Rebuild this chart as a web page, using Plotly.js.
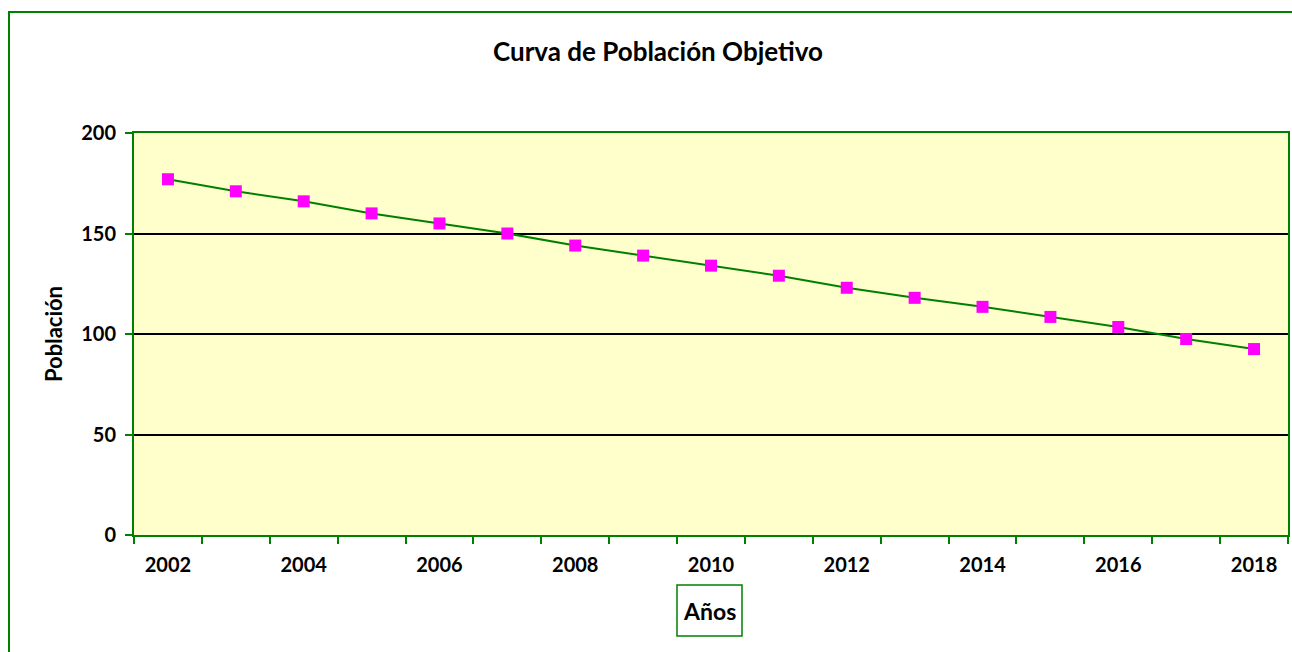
<!DOCTYPE html>
<html>
<head>
<meta charset="utf-8">
<script src="https://cdn.plot.ly/plotly-3.0.1.min.js"></script>
<style>html,body{margin:0;padding:0;background:#fff;}#chart{width:1292px;height:652px;}</style>
</head>
<body>
<div id="chart"></div>
<script>
const years = [2002,2003,2004,2005,2006,2007,2008,2009,2010,2011,2012,2013,2014,2015,2016,2017,2018];
const poblacion = [177,171,166,160,155,150,144,139,134,129,123,118,113.5,108.5,103.5,97.5,92.5];
const titleText = 'Curva de Población Objetivo';
const xTitle = 'Años';
const yTitle = 'Población';

const GREEN = '#008000';
const FONT = 'Lato, "Open Sans", sans-serif';

const trace = {
  x: years, y: poblacion, type: 'scatter', mode: 'lines+markers',
  line: {color: GREEN, width: 2},
  marker: {symbol: 'square', size: 12, color: '#FF00FF', line: {width: 0}},
  hoverinfo: 'x+y'
};

const layout = {
  width: 1292, height: 652,
  margin: {l: 134, r: 4, t: 133, b: 117},
  paper_bgcolor: '#FFFFFF',
  plot_bgcolor: '#FFFFCC',
  showlegend: false,
  title: {text: '<b>' + titleText + '</b>', x: 658/1292, xref: 'container', xanchor: 'center',
          y: 1 - 52/652, yref: 'container', yanchor: 'middle',
          font: {family: FONT, size: 26, color: '#000'}},
  xaxis: {
    type: 'linear', range: [2001.5, 2018.5],
    tickmode: 'linear', tick0: 2002, dtick: 2, ticks: '',
    minor: {ticks: 'outside', tick0: 2001.5, dtick: 1, ticklen: 7, tickwidth: 2, tickcolor: GREEN, showgrid: false},
    showline: true, linecolor: GREEN, linewidth: 2, mirror: true,
    showgrid: false, zeroline: false,
    tickfont: {family: FONT, size: 20, color: '#000', weight: 'bold'},
    ticklabelstandoff: 11
  },
  yaxis: {
    range: [0, 200], tickmode: 'linear', tick0: 0, dtick: 50,
    ticks: 'outside', ticklen: 7, tickwidth: 2, tickcolor: GREEN,
    showline: true, linecolor: GREEN, linewidth: 2, mirror: true,
    showgrid: true, gridcolor: '#000000', gridwidth: 2, zeroline: false,
    tickfont: {family: FONT, size: 20, color: '#000', weight: 'bold'},
    ticklabelstandoff: 5,
    title: {text: '<b>' + yTitle + '</b>', font: {family: FONT, size: 22, color: '#000'}, standoff: 12}
  },
  shapes: [
    {type: 'rect', xref: 'paper', yref: 'paper', x0: (9-134)/1154, x1: 1.2, y0: -0.6, y1: (535-12)/402,
     line: {color: GREEN, width: 2}, fillcolor: 'rgba(0,0,0,0)', layer: 'below'},
    {type: 'rect', xref: 'paper', yref: 'paper', x0: (677-134)/1154, x1: (742-134)/1154,
     y0: (535-636)/402, y1: (535-585)/402, line: {color: GREEN, width: 1.5}, fillcolor: 'rgba(0,0,0,0)'}
  ],
  annotations: [
    {text: '<b>' + xTitle + '</b>', xref: 'paper', yref: 'paper', x: (709.5-134)/1154, y: (535-610.5)/402,
     xanchor: 'center', yanchor: 'middle', showarrow: false,
     font: {family: FONT, size: 23, color: '#000'}}
  ]
};

Plotly.newPlot('chart', [trace], layout, {displayModeBar: false, staticPlot: true});
</script>
</body>
</html>
